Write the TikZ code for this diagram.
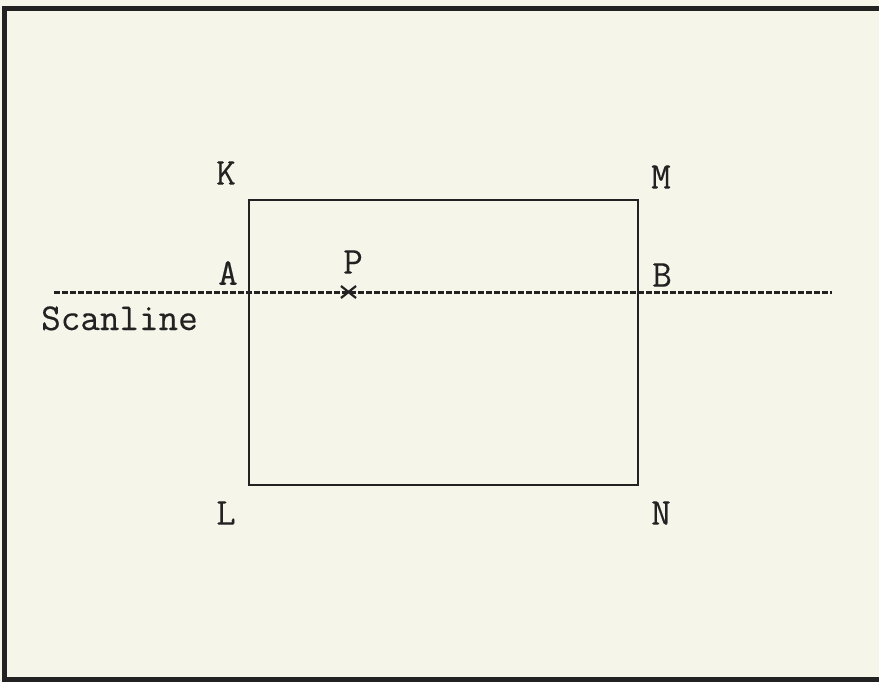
\documentclass[tikz,border=0pt]{standalone}
\usepackage{fontspec}
\setmonofont{Latin Modern Mono}[FakeBold=0.3]
\usetikzlibrary{calc}
\begin{document}
\begin{tikzpicture}[x=1pt,y=-1pt,
  ink/.style={draw=inkc},
  lbl/.style={font=\ttfamily\fontsize{38}{38}\selectfont, text=inkc, inner sep=0pt, anchor=center},
  scan/.style={draw=inkc, line width=3pt, dash pattern=on 5.5pt off 2.5pt}]
\definecolor{paper}{RGB}{245,245,234}
\definecolor{inkc}{RGB}{34,34,34}
\useasboundingbox (0,0) rectangle (879,682);
\fill[paper] (0,0) rectangle (879,682);
% frame (open on the right side)
\draw[inkc, line width=5pt] (879,8.5) -- (4.5,8.5) -- (4.5,679) -- (879,679);
% polygon corners
\coordinate (k) at (249,200);
\coordinate (m) at (638,200);
\coordinate (n) at (638,485);
\coordinate (l) at (249,485);
\draw[ink, line width=2pt] (k) -- (m) -- (n) -- (l) -- cycle;
% scanline
\coordinate (s0) at (54,292);
\coordinate (s1) at (832,292);
\draw[scan] (s0) -- (s1);
% sample point P
\coordinate (p) at (348.5,292);
\draw[ink, line width=2.2pt] ($(p)+(-7.5,-6)$) -- ($(p)+(7.5,6)$);
\draw[ink, line width=2.2pt] ($(p)+(-7.5,6)$) -- ($(p)+(7.5,-6)$);
% labels
\node[lbl] (K) at (226,173) {K};
\node[lbl] (M) at (661,177) {M};
\node[lbl] (A) at (228,273) {A};
\node[lbl] (P) at (353,262) {P};
\node[lbl] (B) at (662,275) {B};
\node[lbl] (L) at (226,513) {L};
\node[lbl] (N) at (661,513) {N};
\node[lbl, anchor=base west] (S) at (41,330) {Scanline};
\end{tikzpicture}
\end{document}
